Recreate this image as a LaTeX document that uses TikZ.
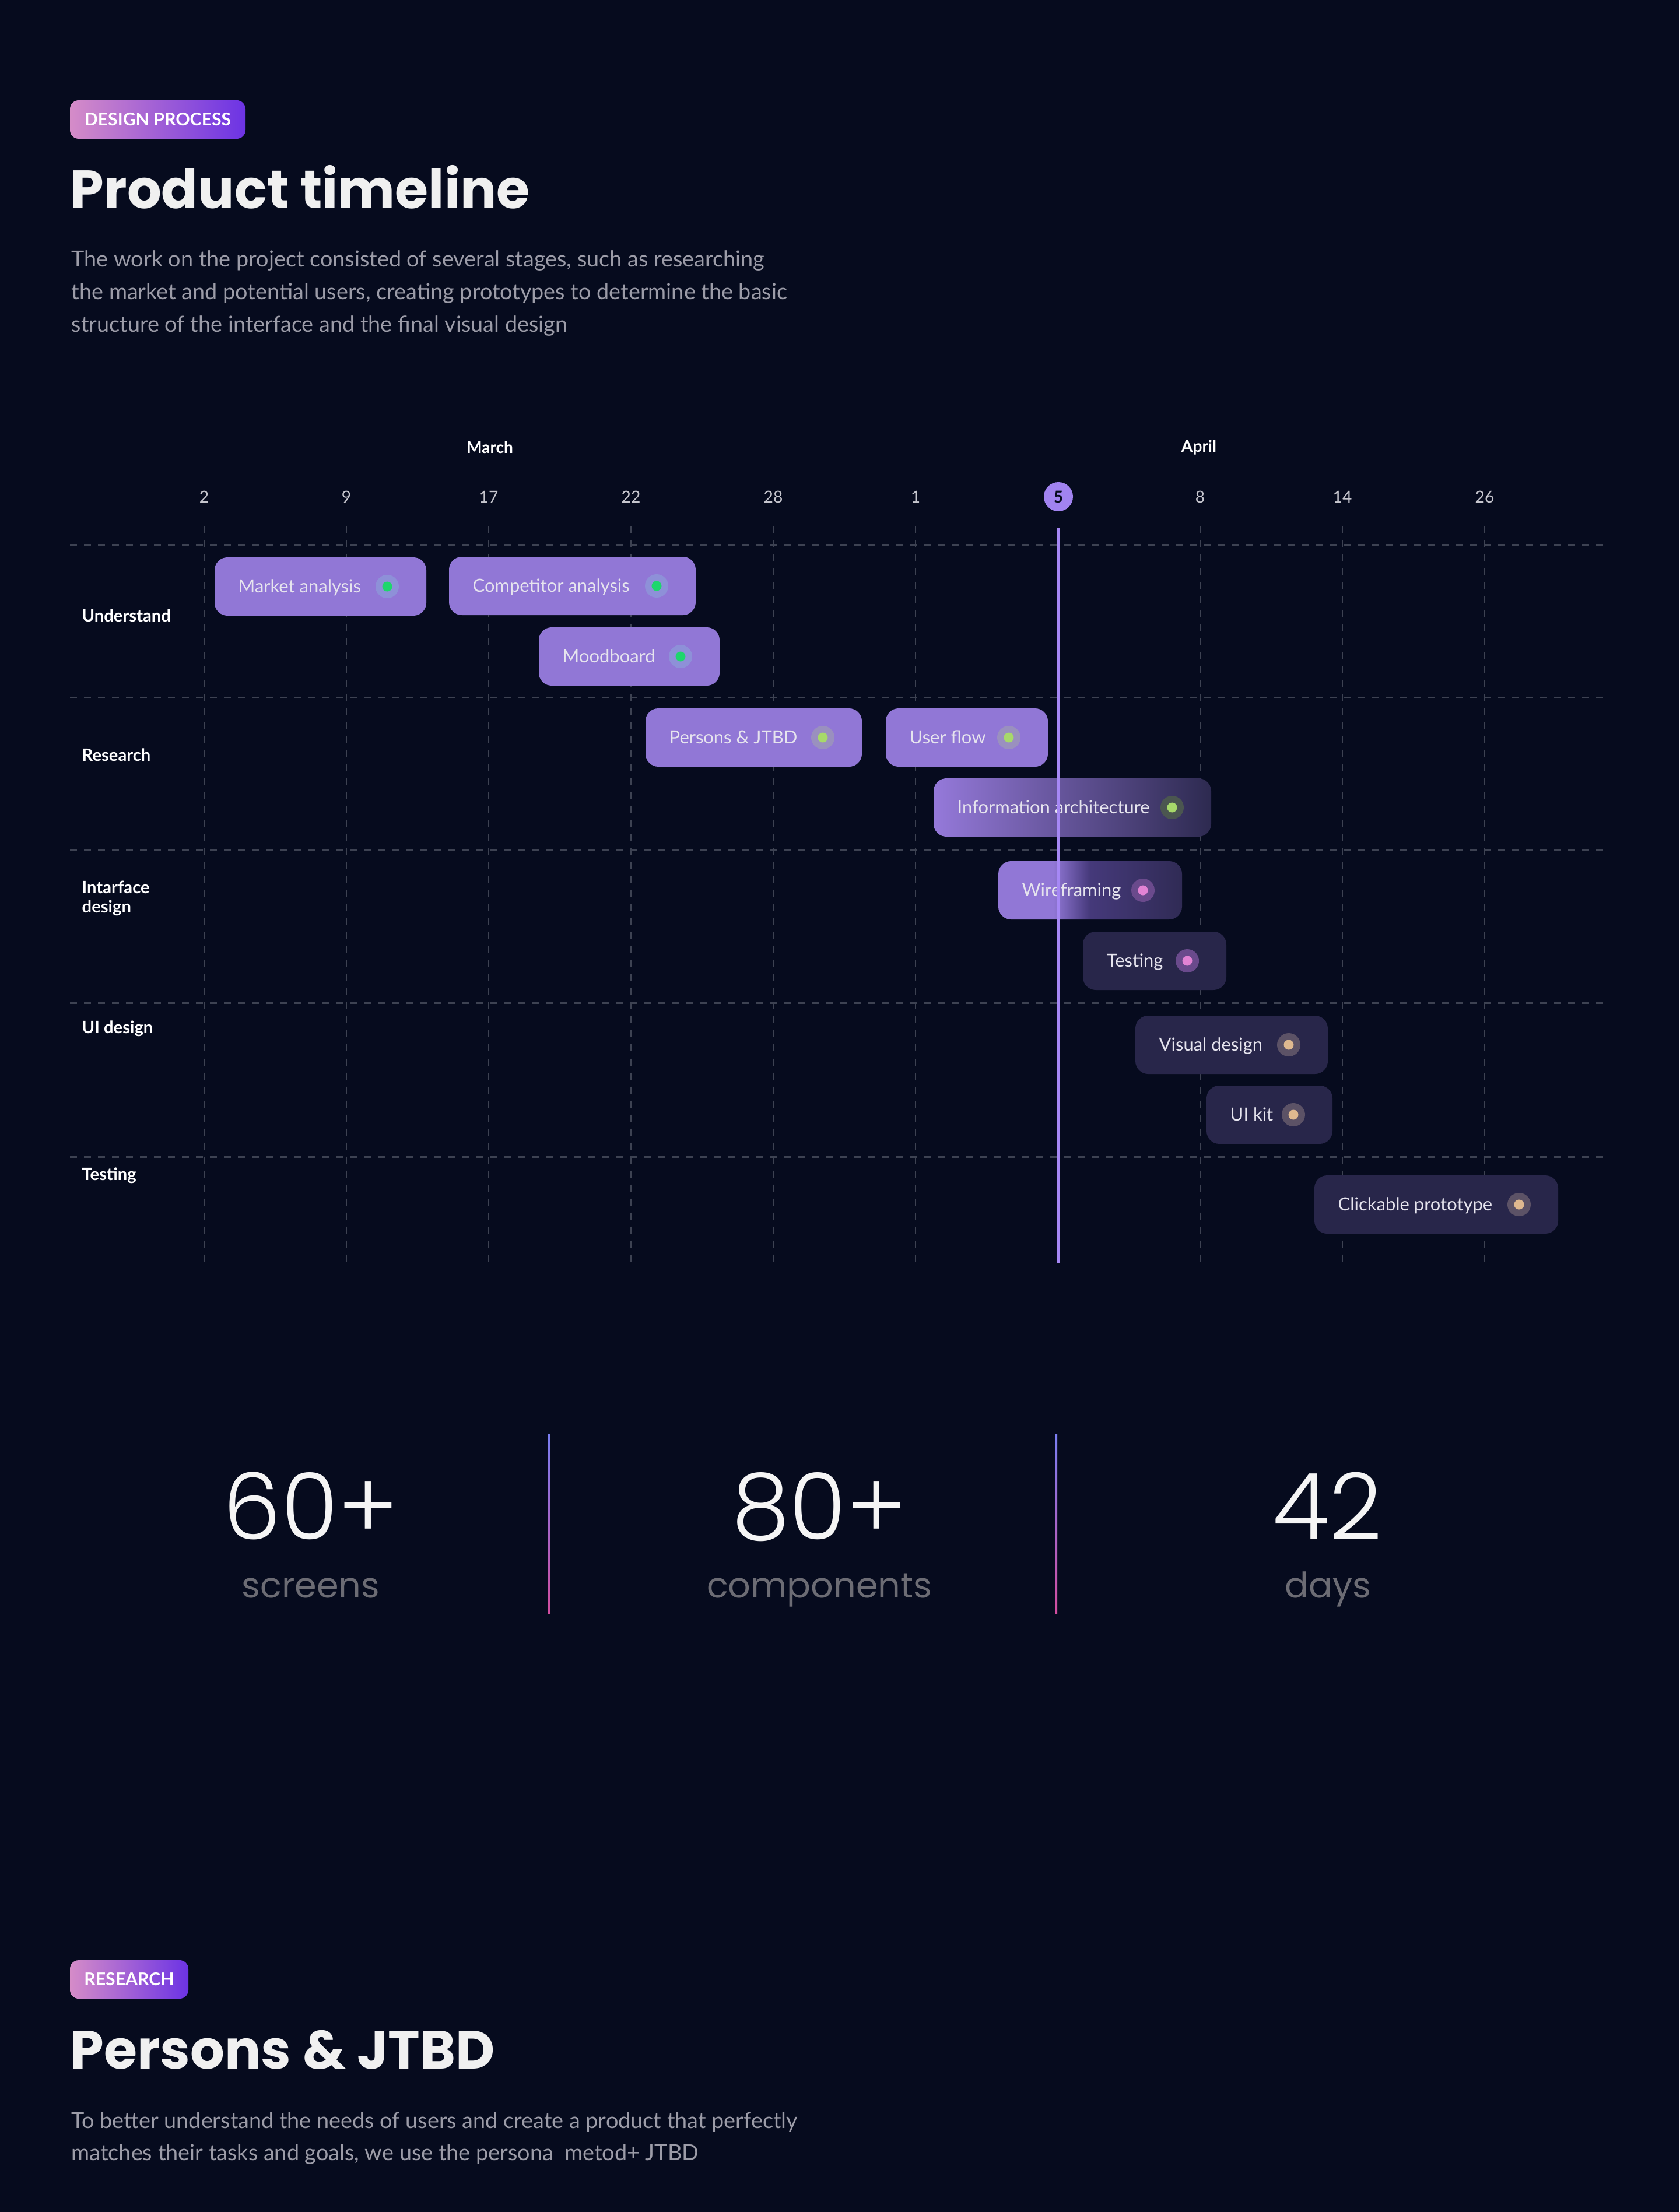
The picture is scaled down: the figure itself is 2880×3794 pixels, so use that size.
\documentclass[tikz,border=0pt]{standalone}
\usepackage{fontspec}
\setmainfont{Lato}
\newfontfamily\pop{Poppins}
\newfontfamily\popl{Poppins Light}
\usetikzlibrary{fit}
\definecolor{bgc}{HTML}{060B1E}
\definecolor{gridc}{HTML}{3D4252}
\definecolor{barP}{HTML}{9177D6}
\definecolor{barD}{HTML}{28264A}
\definecolor{iaL}{HTML}{9579DA}
\definecolor{iaR}{HTML}{2D2A50}
\definecolor{wfM}{HTML}{45397A}
\definecolor{wfR}{HTML}{302B55}
\definecolor{txtL}{HTML}{E6E4EE}
\definecolor{bodyc}{HTML}{9C9CA8}
\definecolor{statc}{HTML}{6C6C74}
\definecolor{datec}{HTML}{C6C6CE}
\definecolor{nowc}{HTML}{A688F5}
\definecolor{circc}{HTML}{A183F0}
\definecolor{divT}{HTML}{7A7EF2}
\definecolor{divB}{HTML}{D24D9F}
\definecolor{bdA}{HTML}{D58CC8}
\definecolor{bdB}{HTML}{6C33E4}
\definecolor{ringA}{HTML}{8E90D8}
\definecolor{ringB}{HTML}{9A90BF}
\definecolor{ringC}{HTML}{4B5650}
\definecolor{ringD}{HTML}{6A4A8C}
\definecolor{ringE}{HTML}{5C5266}
\definecolor{dotG}{HTML}{1ED66C}
\definecolor{dotL}{HTML}{A7D96A}
\definecolor{dotK}{HTML}{E283D4}
\definecolor{dotY}{HTML}{DFB98F}
\pgfdeclarehorizontalshading{wfshade}{100bp}{color(0bp)=(barP); color(25bp)=(barP); color(40bp)=(barP); color(50bp)=(wfM); color(75bp)=(wfR); color(100bp)=(wfR)}
\newcommand\gtask[8]{%
  \node[#5, fit={(#2,#4) (#3,{#4+100})}] (#1) {};
  \node[bartext, anchor=base west] (#1-t) at ({#2+40},{#4+60}) {#6};
  \node[ring, fill=#7] (#1-r) at ({#3-67},{#4+50}) {};
  \node[dotc, fill=#8] (#1-d) at (#1-r.center) {};
}
\begin{document}
\begin{tikzpicture}[x=0.01cm,y=-0.01cm,
  bartext/.style={text=txtL, font=\fontsize{8.8pt}{10pt}\selectfont, inner sep=0},
  taskP/.style={fill=barP, rounded corners=0.22cm, inner sep=0},
  taskD/.style={fill=barD, rounded corners=0.22cm, inner sep=0},
  taskIA/.style={left color=iaL, right color=iaR, rounded corners=0.22cm, inner sep=0},
  taskWF/.style={shading=wfshade, rounded corners=0.22cm, inner sep=0},
  ring/.style={circle, minimum size=0.4cm, inner sep=0},
  dotc/.style={circle, minimum size=0.17cm, inner sep=0},
  hdash/.style={gridc, line width=0.85pt, dash pattern=on 0.12cm off 0.12cm},
  vdash/.style={gridc, line width=0.7pt, dash pattern=on 0.12cm off 0.12cm},
  badge/.style={left color=bdA, right color=bdB, rounded corners=0.15cm, inner sep=0},
  badgetext/.style={text=white, font=\bfseries\fontsize{8.6pt}{10pt}\selectfont, inner sep=0},
  title/.style={text=white!94!black, font=\pop\bfseries\fontsize{26.3pt}{30pt}\selectfont, inner sep=0},
  body/.style={text=bodyc, font=\fontsize{10.75pt}{12pt}\selectfont, inner sep=0},
  month/.style={text=white, font=\bfseries\fontsize{8pt}{9pt}\selectfont, inner sep=0},
  datel/.style={text=datec, font=\fontsize{8pt}{9pt}\selectfont, inner sep=0},
  rowl/.style={text=white, font=\bfseries\fontsize{8.3pt}{9.4pt}\selectfont, inner sep=0, align=left},
  statn/.style={text=white!96!black, font=\popl\fontsize{45pt}{50pt}\selectfont, inner sep=0},
  statl/.style={text=statc, font=\pop\fontsize{17.2pt}{20pt}\selectfont, inner sep=0},
]
% background
\fill[bgc] (0,0) rectangle (2880,3794);
\useasboundingbox (0,0) rectangle (2880,3794);

% header
\node[badge, fit={(120,172) (421,238)}] (badge1) {};
\node[badgetext] (badge1-t) at (badge1.center) {DESIGN PROCESS};
\node[title, anchor=base west] (title1) at (120,358) {Product timeline};
\node[body, anchor=base west] (body1a) at (122,458) {The work on the project consisted of several stages, such as researching};
\node[body, anchor=base west] (body1b) at (122,513) {the market and potential users, creating prototypes to determine the basic};
\node[body, anchor=base west] (body1c) at (122,569) {structure of the interface and the final visual design};

% months and dates
\node[month] (march) at (840,767) {March};
\node[month] (april) at (2056,767) {April};
\foreach \x/\d/\n in {350/2/d1,594/9/d2,838/17/d3,1082/22/d4,1326/28/d5,1570/1/d6,2058/8/d8,2302/14/d9,2546/26/d10}{
  \node[datel] (\n) at (\x,852) {\d};
  \draw[vdash] (\x,903) -- (\x,2166);
}
\node[circle, fill=circc, minimum size=0.5cm, inner sep=0, text=bgc, font=\bfseries\fontsize{8pt}{9pt}\selectfont] (d7) at (1815,852) {5};

% row separators
\foreach \y in {934,1196,1458,1720,1984}{
  \draw[hdash] (120,\y) -- (2757,\y);
}

% row labels
\node[rowl, anchor=west] (r1) at (140,1056) {Understand};
\node[rowl, anchor=west] (r2) at (140,1295) {Research};
\node[rowl, anchor=west] (r3) at (140,1541) {Intarface\\design};
\node[rowl, anchor=west] (r4) at (140,1764) {UI design};
\node[rowl, anchor=west] (r5) at (140,2016) {Testing};

% tasks
\gtask{t1}{368}{731}{956}{taskP}{Market analysis}{ringA}{dotG}
\gtask{t2}{770}{1193}{955}{taskP}{Competitor analysis}{ringA}{dotG}
\gtask{t3}{924}{1234}{1076}{taskP}{Moodboard}{ringA}{dotG}
\gtask{t4}{1107}{1478}{1215}{taskP}{Persons \& JTBD}{ringB}{dotL}
\gtask{t5}{1519}{1797}{1215}{taskP}{User flow}{ringB}{dotL}
\gtask{t6}{1601}{2077}{1335}{taskIA}{Information architecture}{ringC}{dotL}
\gtask{t7}{1712}{2027}{1477}{taskWF}{Wireframing}{ringD}{dotK}
\gtask{t8}{1857}{2103}{1598}{taskD}{Testing}{ringD}{dotK}
\gtask{t9}{1947}{2277}{1742}{taskD}{Visual design}{ringE}{dotY}
\gtask{t10}{2069}{2285}{1862}{taskD}{UI kit}{ringE}{dotY}
\gtask{t11}{2254}{2672}{2016}{taskD}{Clickable prototype}{ringE}{dotY}

% current day line
\coordinate (nowtop) at (1815,905);
\coordinate (nowend) at (1815,2166);
\draw[nowc, line width=1.14pt] (nowtop) -- (nowend);

% stats
\node[statn, anchor=base] (s1) at (533,2640) {60+};
\node[statl, anchor=base] (s1l) at (533,2740) {screens};
\node[statn, anchor=base] (s2) at (1405,2640) {80+};
\node[statl, anchor=base] (s2l) at (1405,2740) {components};
\node[statn, anchor=base] (s3) at (2276,2640) {42};
\node[statl, anchor=base] (s3l) at (2277,2740) {days};
\shade[top color=divT, bottom color=divB] (939,2460) rectangle (943,2768);
\shade[top color=divT, bottom color=divB] (1809,2460) rectangle (1813,2768);

% bottom section
\node[badge, fit={(120,3362) (323,3428)}] (badge2) {};
\node[badgetext] (badge2-t) at (badge2.center) {RESEARCH};
\node[title, anchor=base west] (title2) at (120,3548) {Persons \& JTBD};
\node[body, anchor=base west] (body2a) at (122,3650) {To better understand the needs of users and create a product that perfectly};
\node[body, anchor=base west] (body2b) at (122,3705) {matches their tasks and goals, we use the persona\ \ metod+ JTBD};
\end{tikzpicture}
\end{document}
